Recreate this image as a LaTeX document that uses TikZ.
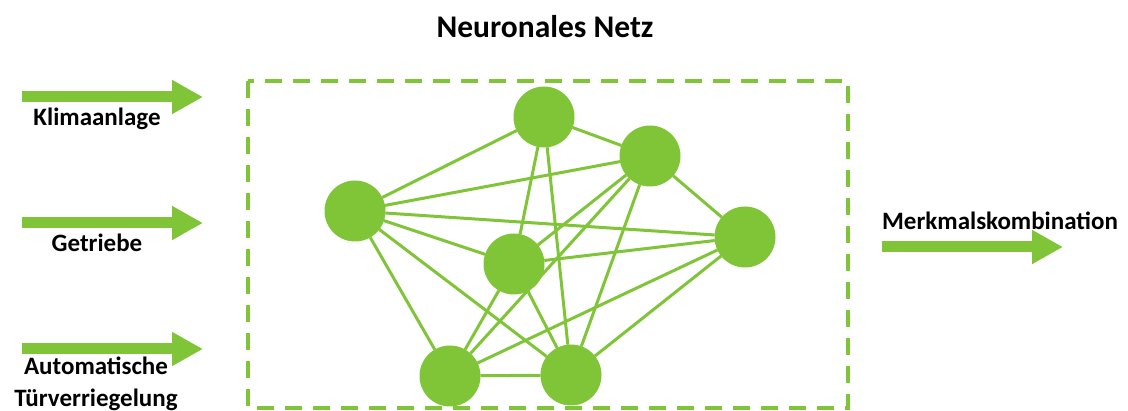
\documentclass[tikz,border=0pt]{standalone}
\usepackage{fontspec}
\setmainfont{Carlito}
\usetikzlibrary{arrows.meta}
\definecolor{netgreen}{RGB}{128,196,56}
\begin{document}
\begin{tikzpicture}[x=1pt,y=-1pt,
  neuron/.style={circle,fill=netgreen,inner sep=0pt,outer sep=0pt,minimum size=61pt},
  link/.style={draw=netgreen,line width=3pt},
  frame/.style={draw=netgreen,line width=3.5pt,dash pattern=on 17pt off 11pt},
  flow/.style={draw=netgreen,line width=11pt,-{Triangle[length=31pt,width=32pt]}},
  label/.style={font=\bfseries\fontsize{25}{32}\selectfont,inner sep=0pt,align=center}]
\useasboundingbox (0,0) rectangle (1128,411);

% title
\node[font=\bfseries\fontsize{31.5}{36}\selectfont,inner sep=0pt] (title) at (545,27) {Neuronales Netz};

% dashed network frame
\draw[frame] (248,81) rectangle (848,408);

% neurons
\node[neuron] (a) at (544,117) {};
\node[neuron] (b) at (650,156) {};
\node[neuron] (c) at (355,211) {};
\node[neuron] (d) at (745,237) {};
\node[neuron] (e) at (514,264) {};
\node[neuron] (f) at (450,376) {};
\node[neuron] (g) at (571,375) {};

% connections
\foreach \u/\v in {a/c,a/b,a/e,a/g,c/b,c/d,c/e,c/g,c/f,b/d,b/e,b/f,b/g,d/e,d/f,d/g,e/f,e/g,f/g}
  \draw[link] (\u) -- (\v);

% input arrows and labels
\coordinate (in1s) at (22,97);  \coordinate (in1e) at (203,97);
\coordinate (in2s) at (22,223); \coordinate (in2e) at (203,223);
\coordinate (in3s) at (22,349); \coordinate (in3e) at (203,349);
\draw[flow] (in1s) -- (in1e);
\draw[flow] (in2s) -- (in2e);
\draw[flow] (in3s) -- (in3e);
\node[label] (l1) at (97,119) {Klimaanlage};
\node[label] (l2) at (97,243) {Getriebe};
\node[label] (l3) at (96,384) {Automatische\\Türverriegelung};

% output arrow and label
\coordinate (outs) at (882,247); \coordinate (oute) at (1063,247);
\draw[flow] (outs) -- (oute);
\node[label] (l4) at (1000,221) {Merkmalskombination};
\end{tikzpicture}
\end{document}
